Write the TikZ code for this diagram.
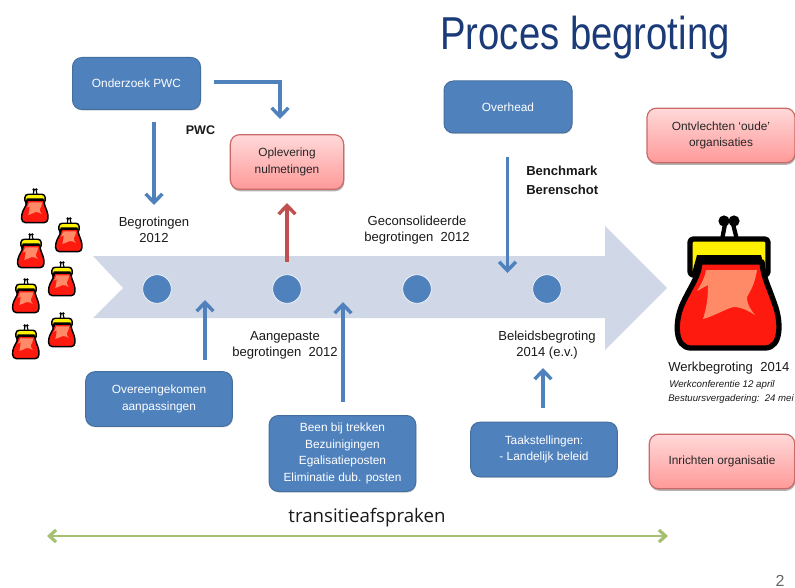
\documentclass[tikz,border=0pt]{standalone}
\usepackage{fontspec}
\usepackage{graphicx}
\setmainfont{Liberation Sans}
\newfontfamily\transfont{Open Sans}
\usetikzlibrary{arrows.meta,shadows,calc}
\definecolor{bluebox}{HTML}{4F81BD}
\definecolor{blueedge}{HTML}{44709F}
\definecolor{redline}{HTML}{C0504D}
\definecolor{band}{HTML}{D0D8E8}
\definecolor{greenline}{HTML}{A5C070}
\definecolor{titleblue}{HTML}{1B3A78}
\definecolor{purseyellow}{HTML}{FFF200}
\definecolor{pursered}{HTML}{FF1A10}
\definecolor{pursesalmon}{HTML}{FF8A68}
\tikzset{
  x=0.75pt,y=-0.75pt,
  bluerect/.style={draw=blueedge,line width=0.75pt,fill=bluebox,rounded corners=7pt,text=white,align=center,
    font=\fontsize{8.9}{12.5}\selectfont,inner sep=0pt,drop shadow={shadow xshift=0.4pt,shadow yshift=-0.8pt,opacity=.18,fill=black}},
  pinkrect/.style={draw=redline!85,line width=0.9pt,top color=red!15,bottom color=red!40,rounded corners=7pt,text=black!85,align=center,
    font=\fontsize{8.9}{12.5}\selectfont,inner sep=0pt,drop shadow={shadow xshift=0.5pt,shadow yshift=-1.5pt,opacity=.3,fill=black}},
  dot/.style={circle,draw=white!70!band,line width=0.6pt,fill=bluebox,minimum size=21.5pt,inner sep=0pt},
  lab/.style={align=center,text=black!90,font=\fontsize{9.8}{12}\selectfont,inner sep=0pt},
  bluearrow/.style={draw=bluebox,line width=2.4pt,-{Straight Barb[length=6.5pt,width=12.5pt,line width=2.6pt]}},
  redarrow/.style={draw=redline,line width=2.4pt,-{Straight Barb[length=6.5pt,width=12.5pt,line width=2.6pt]}},
}
\newcommand{\pursedraw}[4]{%
 \begin{scope}[shift={(#1,#2)},scale=#3,line width=#4,draw=black,line join=round]
  \fill (49,6) circle (5.6) (59,6) circle (5.6);
  \draw[line width=#4*.8] (50,9) -- (47,25) (58,9) -- (62,25);
  \filldraw[fill=purseyellow,rounded corners=2.5] (15,24) -- (93,24) -- (93,60) -- (15,60) -- cycle;
  \fill[black] (22,40) -- (86,40) -- (92,62) -- (16,62) -- cycle;
  \filldraw[fill=pursered] (25,47) .. controls (24,62) and (15,72) .. (7,90) .. controls (0,106) and (-1,133) .. (16,133)
    -- (90,133) .. controls (107,133) and (106,106) .. (100,90) .. controls (94,72) and (88,62) .. (87,47) -- cycle;
  \fill[pursesalmon] (31,55) -- (82,55) .. controls (80,68) and (76,75) .. (72,82)
    .. controls (72,90) and (76,95) .. (80,100) .. controls (72,95) and (62,90) .. (55,93)
    .. controls (45,97) and (36,102) .. (28,104) .. controls (32,92) and (33,80) .. (33,70)
    -- (22,76) .. controls (27,68) and (30,62) .. (31,55) -- cycle;
 \end{scope}}
\begin{document}
\begin{tikzpicture}
\path[use as bounding box,clip] (0,0) rectangle (795,588);
\fill[band] (93,256) -- (605,256) -- (605,226) -- (667,288) -- (605,350) -- (605,318) -- (93,318) -- (123,288) -- cycle;

\node[anchor=base west,font=\fontsize{34.6}{36}\selectfont,text=titleblue,inner sep=0pt] (title) at (440,50) {\scalebox{0.83}[1]{Proces begroting}};

\pursedraw{21}{188}{0.26}{1.1pt}
\pursedraw{55}{217}{0.26}{1.1pt}
\pursedraw{17}{233}{0.26}{1.1pt}
\pursedraw{48}{261}{0.26}{1.1pt}
\pursedraw{12}{278}{0.26}{1.1pt}
\pursedraw{48}{312}{0.26}{1.1pt}
\pursedraw{12}{324}{0.26}{1.1pt}
\pursedraw{675}{215}{1}{4pt}

\node[bluerect,minimum width=96pt,minimum height=39pt] (onderzoek) at (136.5,83.5) {Onderzoek PWC};
\node[pinkrect,minimum width=85pt,minimum height=41pt] (oplevering) at (287,162) {Oplevering\\nulmetingen};
\node[bluerect,minimum width=96pt,minimum height=39pt] (overhead) at (508,107) {Overhead};
\node[pinkrect,minimum width=111pt,minimum height=41pt] (ontvlechten) at (721,135.5) {Ontvlechten ‘oude’\\organisaties};
\node[bluerect,minimum width=110pt,minimum height=41pt] (overeen) at (159,399) {Overeengekomen\\aanpassingen};
\node[bluerect,minimum width=110pt,minimum height=57pt] (been) at (342.5,453.5) {Been bij trekken\\Bezuinigingen\\Egalisatieposten\\Eliminatie dub. posten};
\node[bluerect,minimum width=110pt,minimum height=41pt] (taak) at (544,449.5) {Taakstellingen:\\- Landelijk beleid};
\node[pinkrect,minimum width=109pt,minimum height=41pt] (inrichten) at (722,461.5) {Inrichten organisatie};

\node[dot] (d1) at (157,289) {};
\node[dot] (d2) at (287,289) {};
\node[dot] (d3) at (417,289) {};
\node[dot] (d4) at (547,289) {};

\node[lab,font=\bfseries\fontsize{9.4}{12}\selectfont] (pwc) at (200.5,130) {PWC};
\node[lab] (beg) at (154,230) {Begrotingen\\2012};
\node[lab] (gecon) at (417,230) {Geconsolideerde\\begrotingen\ \ 2012};
\node[lab] (aang) at (285,345) {Aangepaste\\begrotingen\ \ 2012};
\node[lab] (bel) at (547,345) {Beleidsbegroting\\2014 (e.v.)};
\node[lab,align=left,anchor=west,font=\bfseries\fontsize{9.8}{14.25}\selectfont] (bench) at (526,180.5) {Benchmark\\Berenschot};
\node[lab,anchor=west] (werk) at (668,368) {Werkbegroting\ \ 2014};
\node[lab,anchor=west,font=\itshape\fontsize{7.3}{8}\selectfont] (wc) at (669,385) {Werkconferentie 12 april};
\node[lab,anchor=west,font=\itshape\fontsize{7.2}{8}\selectfont] (bv) at (668,399.5) {Bestuursvergadering:\ \ 24 mei};
\node[lab,font=\transfont\fontsize{14}{16}\selectfont] (trans) at (367,517.5) {transitieafspraken};
\node[lab,anchor=base,text=black!60,font=\fontsize{12}{13}\selectfont] (pg) at (780,586.5) {2};

\coordinate (a1) at (154,122); \coordinate (a2) at (154,205);
\coordinate (b1) at (214,82); \coordinate (b2) at (280,119);
\coordinate (c1) at (287,262); \coordinate (c2) at (287,203);
\coordinate (e1) at (205,360); \coordinate (e2) at (205,300);
\coordinate (f1) at (343,402); \coordinate (f2) at (343,302);
\coordinate (g1) at (543,408); \coordinate (g2) at (543,368);
\coordinate (h1) at (507.5,157); \coordinate (h2) at (507.5,273);
\coordinate (t1) at (47,536); \coordinate (t2) at (668,536);

\draw[bluearrow] (a1) -- (a2);
\draw[bluearrow] (b1) -| (b2);
\draw[redarrow] (c1) -- (c2);
\draw[bluearrow] (e1) -- (e2);
\draw[bluearrow] (f1) -- (f2);
\draw[bluearrow] (g1) -- (g2);
\draw[bluearrow] (h1) -- (h2);
\draw[greenline,line width=1.8pt,{Straight Barb[length=5pt,width=9pt,line width=2.4pt]}-{Straight Barb[length=5pt,width=9pt,line width=2.4pt]}] (t1) -- (t2);
\end{tikzpicture}
\end{document}
